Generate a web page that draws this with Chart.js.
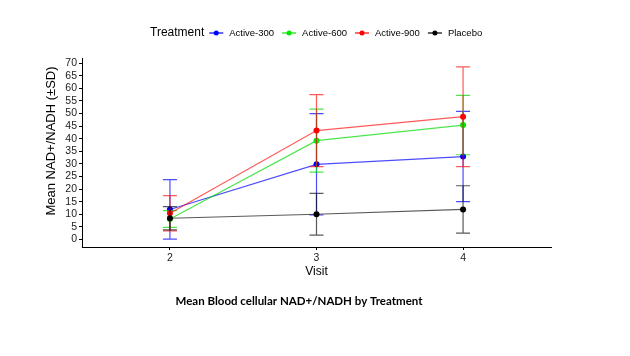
<!DOCTYPE html>
<html><head><meta charset="utf-8">
<script src="https://cdn.jsdelivr.net/npm/chart.js@4"></script>
<style>html,body{margin:0;padding:0;background:#fff}#wrap{width:630px;height:356px;position:relative}</style>
</head><body><div id="wrap"><canvas id="c" width="630" height="356"></canvas></div>
<script>
// ---- data ----
const visits = [2, 3, 4];
const seriesNames = ['Active-300', 'Active-600', 'Active-900', 'Placebo'];
const mean300 = [11.9, 29.8, 32.9];
const sd300 = [11.8, 20.1, 17.9];
const mean600 = [8.1, 39.2, 45.4];
const sd600 = [3.3, 12.5, 11.8];
const mean900 = [10.4, 43.2, 48.7];
const sd900 = [7.0, 14.3, 19.8];
const meanPlacebo = [8.4, 10.0, 11.9];
const sdPlacebo = [4.6, 8.3, 9.4];
const yTicks = [0, 5, 10, 15, 20, 25, 30, 35, 40, 45, 50, 55, 60, 65, 70];
const xTicks = [2, 3, 4];
const legendTitle = 'Treatment';
const xTitle = 'Visit';
const yTitle = 'Mean NAD+/NADH (\u00b1SD)';
const chartTitle = 'Mean Blood cellular NAD+/NADH by Treatment';

const means = [mean300, mean600, mean900, meanPlacebo];
const sds = [sd300, sd600, sd900, sdPlacebo];
const solid = ['#0000ff', '#00e600', '#ff0000', '#000000'];
const soft = ['rgba(0,0,255,0.7)', 'rgba(0,220,0,0.7)', 'rgba(255,0,0,0.65)', 'rgba(0,0,0,0.65)'];
const orders = [3, 2, 1, 0];

const datasets = seriesNames.map((name, k) => ({
  label: name,
  data: visits.map((v, i) => ({ x: v, y: means[k][i] })),
  borderColor: soft[k],
  backgroundColor: solid[k],
  pointBackgroundColor: solid[k],
  pointBorderColor: solid[k],
  pointRadius: 3,
  pointBorderWidth: 0,
  borderWidth: 1.2,
  tension: 0,
  order: orders[k]
}));

const deco = {
  id: 'deco',
  beforeDatasetDraw(chart, args) {
    const k = args.index;
    const ctx = chart.ctx, xs = chart.scales.x, ys = chart.scales.y;
    ctx.save();
    ctx.strokeStyle = soft[k];
    ctx.lineWidth = 1.2;
    visits.forEach((v, i) => {
      const x = xs.getPixelForValue(v);
      const t = ys.getPixelForValue(means[k][i] + sds[k][i]);
      const b = ys.getPixelForValue(means[k][i] - sds[k][i]);
      ctx.beginPath();
      ctx.moveTo(x, t); ctx.lineTo(x, b);
      ctx.moveTo(x - 7, t); ctx.lineTo(x + 7, t);
      ctx.moveTo(x - 7, b); ctx.lineTo(x + 7, b);
      ctx.stroke();
    });
    ctx.restore();
  },
  afterDraw(chart) {
    const ctx = chart.ctx, a = chart.chartArea;
    ctx.save();
    // legend
    const ly = 33;
    ctx.textBaseline = 'middle';
    ctx.fillStyle = '#000';
    ctx.font = '12px "Liberation Sans", Arial, sans-serif';
    let x = 150;
    ctx.fillText(legendTitle, x, ly);
    x += ctx.measureText(legendTitle).width + 12;
    ctx.font = '9.5px "Liberation Sans", Arial, sans-serif';
    seriesNames.forEach((name, k) => {
      ctx.strokeStyle = solid[k];
      ctx.lineWidth = 1.2;
      ctx.beginPath(); ctx.moveTo(x - 7, ly); ctx.lineTo(x + 7, ly); ctx.stroke();
      ctx.fillStyle = solid[k];
      ctx.beginPath(); ctx.arc(x, ly, 2.5, 0, Math.PI * 2); ctx.fill();
      ctx.fillStyle = '#000';
      ctx.fillText(name, x + 13, ly);
      x += 13 + ctx.measureText(name).width + 15;
    });
    // axis titles
    ctx.fillStyle = '#000';
    ctx.textAlign = 'center';
    ctx.font = '12px "Liberation Sans", Arial, sans-serif';
    ctx.fillText(xTitle, (a.left + a.right) / 2, 272);
    ctx.save();
    ctx.translate(51, 141);
    ctx.rotate(-Math.PI / 2);
    ctx.font = '13px "Liberation Sans", Arial, sans-serif';
    ctx.fillText(yTitle, 0, 0);
    ctx.restore();
    // chart title (bottom)
    ctx.font = 'bold 11.5px Lato, "Liberation Sans", sans-serif';
    ctx.fillText(chartTitle, 299, 301);
    ctx.restore();
  }
};

new Chart(document.getElementById('c'), {
  type: 'line',
  data: { datasets },
  options: {
    responsive: false,
    animation: false,
    devicePixelRatio: 1,
    layout: { padding: { left: 0, right: 79, top: 58, bottom: 84 } },
    plugins: { legend: { display: false }, tooltip: { enabled: false }, title: { display: false } },
    scales: {
      x: {
        type: 'linear', min: 1.4, max: 4.6,
        afterBuildTicks: s => { s.ticks = xTicks.map(v => ({ value: v })); },
        afterFit: s => { s.height = 25; },
        grid: { drawOnChartArea: false, drawTicks: true, tickLength: 3, color: '#000' },
        border: { color: '#000', width: 1 },
        ticks: { color: '#222', padding: 2, autoSkip: false, font: { size: 10.5, family: '"Liberation Sans", Arial, sans-serif' }, maxRotation: 0 }
      },
      y: {
        type: 'linear', min: -3, max: 72,
        afterBuildTicks: s => { s.ticks = yTicks.map(v => ({ value: v })); },
        afterFit: s => { s.width = 82; },
        grid: { drawOnChartArea: false, drawTicks: true, tickLength: 3, color: '#000' },
        border: { color: '#000', width: 1 },
        ticks: { color: '#222', padding: 2, autoSkip: false, font: { size: 10.5, family: '"Liberation Sans", Arial, sans-serif' } }
      }
    }
  },
  plugins: [deco]
});
</script></body></html>
